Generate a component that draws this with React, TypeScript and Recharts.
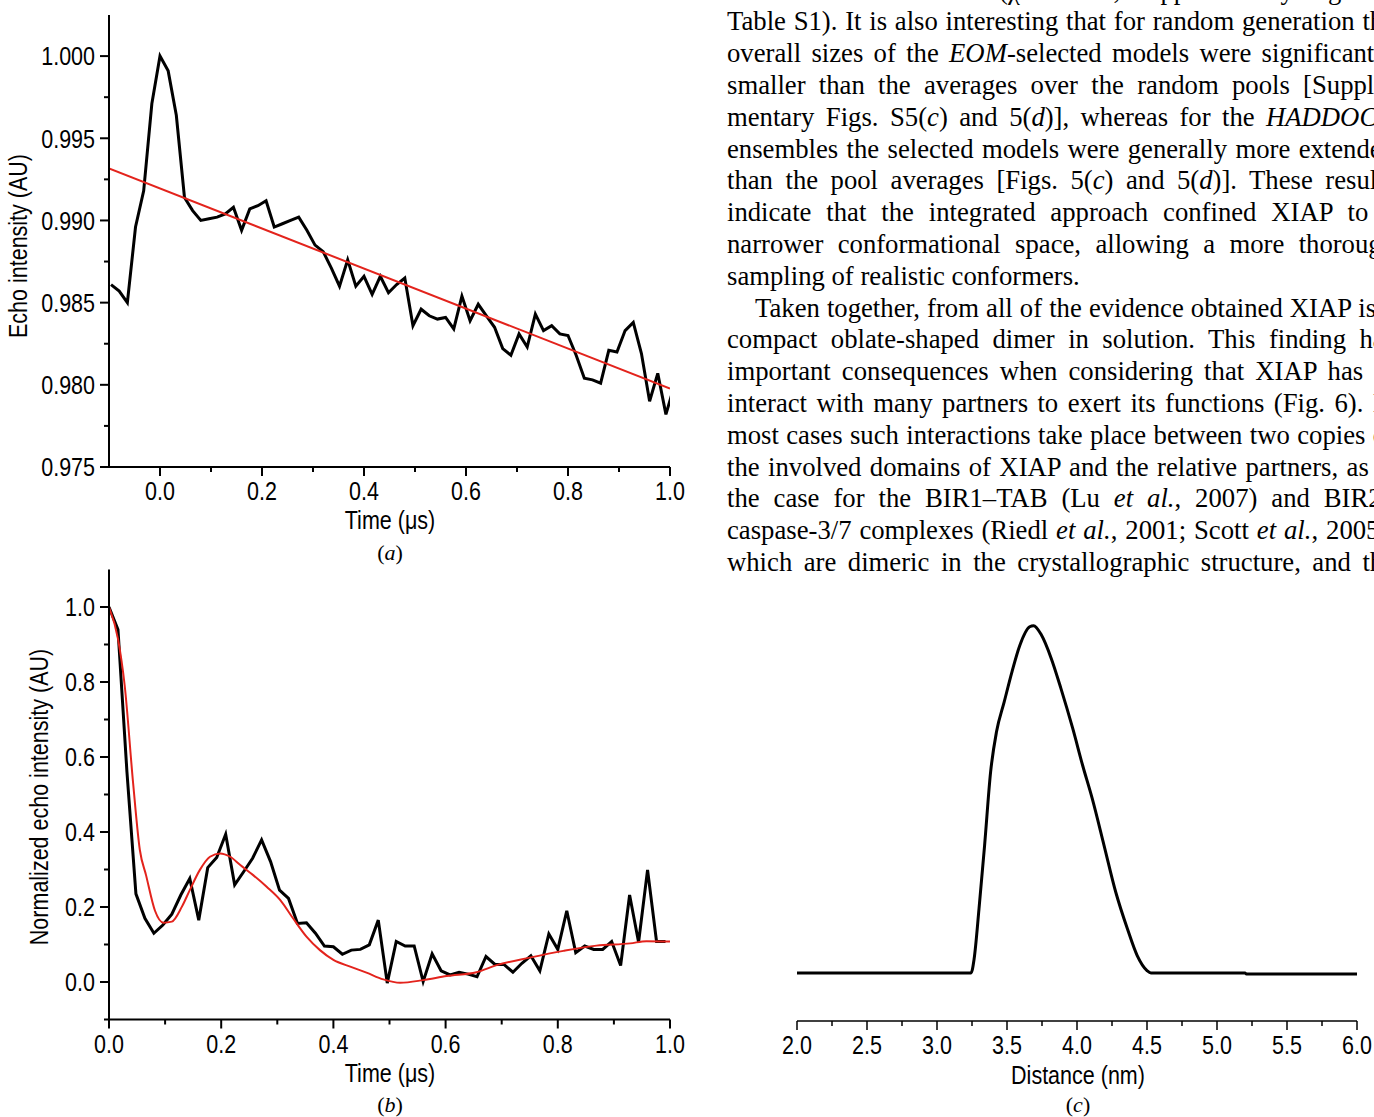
import React from 'react';
import { LineChart, Line, XAxis, YAxis } from 'recharts';

// (a) raw echo, time in µs
const timeA = [
  -0.096, -0.08, -0.064, -0.048, -0.032, -0.016, 0, 0.016, 0.032, 0.048, 0.064, 0.08, 0.096, 0.112,
  0.128, 0.144, 0.16, 0.176, 0.192, 0.208, 0.224, 0.24, 0.256, 0.272, 0.288, 0.304, 0.32, 0.336,
  0.352, 0.368, 0.384, 0.4, 0.416, 0.432, 0.448, 0.464, 0.48, 0.496, 0.512, 0.528, 0.544, 0.56,
  0.576, 0.592, 0.608, 0.624, 0.64, 0.656, 0.672, 0.688, 0.704, 0.72, 0.736, 0.752, 0.768, 0.784,
  0.8, 0.816, 0.832, 0.848, 0.864, 0.88, 0.896, 0.912, 0.928, 0.944, 0.96, 0.976, 0.992, 1.008,
];
const echoA = [
  0.9861, 0.9857, 0.985, 0.9896, 0.9918, 0.9971, 1.0, 0.9991, 0.9964, 0.9914, 0.9906, 0.99, 0.9901, 0.9902,
  0.9904, 0.9908, 0.9894, 0.9907, 0.9909, 0.9912, 0.9896, 0.9898, 0.99, 0.9902, 0.9894, 0.9885, 0.9881, 0.9871,
  0.986, 0.9876, 0.986, 0.9866, 0.9855, 0.9866, 0.9856, 0.9861, 0.9865, 0.9836, 0.9846, 0.9842, 0.984, 0.9841,
  0.9834, 0.9854, 0.9839, 0.9849, 0.9842, 0.9835, 0.9822, 0.9818, 0.9831, 0.9823, 0.9843, 0.9833, 0.9836, 0.9831,
  0.983, 0.9818, 0.9804, 0.9803, 0.9801, 0.9821, 0.982, 0.9833, 0.9838, 0.9819, 0.979, 0.9807, 0.9782, 0.9799,
];
const fitTimeA = [-0.1, 1.0];
const fitA = [0.99316, 0.97977];

// (b) normalized echo
const timeB = [
  0, 0.016, 0.032, 0.048, 0.064, 0.08, 0.096, 0.112, 0.128, 0.144, 0.16, 0.176, 0.192, 0.208, 0.224, 0.24,
  0.256, 0.272, 0.288, 0.304, 0.32, 0.336, 0.352, 0.368, 0.384, 0.4, 0.416, 0.432, 0.448, 0.464, 0.48, 0.496,
  0.512, 0.528, 0.544, 0.56, 0.576, 0.592, 0.608, 0.624, 0.64, 0.656, 0.672, 0.688, 0.704, 0.72, 0.736, 0.752,
  0.768, 0.784, 0.8, 0.816, 0.832, 0.848, 0.864, 0.88, 0.896, 0.912, 0.928, 0.944, 0.96, 0.976, 0.992,
];
const echoB = [
  1.0, 0.94, 0.56, 0.235, 0.17, 0.13, 0.152, 0.181, 0.232, 0.276, 0.165, 0.305, 0.332, 0.394, 0.259, 0.294,
  0.33, 0.379, 0.321, 0.245, 0.223, 0.156, 0.158, 0.13, 0.096, 0.094, 0.074, 0.085, 0.087, 0.099, 0.165, -0.003,
  0.108, 0.096, 0.096, 0.001, 0.075, 0.03, 0.019, 0.026, 0.021, 0.014, 0.068, 0.047, 0.047, 0.026, 0.05, 0.07,
  0.03, 0.128, 0.087, 0.19, 0.078, 0.096, 0.087, 0.087, 0.108, 0.044, 0.232, 0.106, 0.299, 0.108, 0.108,
];
const fitTimeB = [
  0, 0.016, 0.028, 0.043, 0.055, 0.066, 0.082, 0.097, 0.112, 0.13, 0.144, 0.162, 0.18, 0.198, 0.216, 0.234,
  0.257, 0.281, 0.305, 0.328, 0.352, 0.376, 0.4, 0.43, 0.459, 0.489, 0.519, 0.56, 0.602, 0.655, 0.691, 0.75,
  0.81, 0.869, 0.929, 0.958, 1.0,
];
const fitB = [
  1.0, 0.915, 0.79, 0.53, 0.352, 0.285, 0.19, 0.158, 0.161, 0.201, 0.245, 0.299, 0.334, 0.343, 0.334, 0.312,
  0.285, 0.254, 0.219, 0.17, 0.121, 0.085, 0.059, 0.041, 0.025, 0.007, -0.002, 0.005, 0.016, 0.026, 0.045, 0.065,
  0.083, 0.097, 0.103, 0.109, 0.108,
];

// (c) distance distribution, normalized to peak
const distC = [
  2.0, 3.243, 3.265, 3.3, 3.34, 3.383, 3.425, 3.48, 3.536, 3.592, 3.662, 3.69, 3.746, 3.816, 3.885, 3.97,
  4.04, 4.109, 4.193, 4.277, 4.36, 4.43, 4.5, 4.528, 5.2, 5.21, 6.0,
];
const probC = [
  0, 0, 0.04, 0.184, 0.367, 0.578, 0.693, 0.779, 0.866, 0.942, 0.995, 0.998, 0.971, 0.904, 0.818, 0.702,
  0.597, 0.501, 0.367, 0.232, 0.127, 0.05, 0.007, 0.0, 0.0, -0.003, -0.003,
];

const ticksAx = [0, 0.1, 0.2, 0.3, 0.4, 0.5, 0.6, 0.7, 0.8, 0.9, 1.0];
const majorAx = [0, 0.2, 0.4, 0.6, 0.8, 1.0];
const ticksAy = [0.975, 0.9775, 0.98, 0.9825, 0.985, 0.9875, 0.99, 0.9925, 0.995, 0.9975, 1.0];
const majorAy = [0.975, 0.98, 0.985, 0.99, 0.995, 1.0];
const ticksBy = [-0.1, 0, 0.1, 0.2, 0.3, 0.4, 0.5, 0.6, 0.7, 0.8, 0.9, 1.0];
const majorBy = [0, 0.2, 0.4, 0.6, 0.8, 1.0];
const ticksCx = [2, 2.25, 2.5, 2.75, 3, 3.25, 3.5, 3.75, 4, 4.25, 4.5, 4.75, 5, 5.25, 5.5, 5.75, 6];
const majorCx = [2, 2.5, 3, 3.5, 4, 4.5, 5, 5.5, 6];

const textLines = [
  <>the fit of the ensemble (χ² = 1.12, Supplementary Fig. S4,</>,
  <>Table S1). It is also interesting that for random generation the</>,
  <>overall sizes of the <i>EOM</i>-selected models were significantly</>,
  <>smaller than the averages over the random pools [Supple-</>,
  <>mentary Figs. S5(<i>c</i>) and 5(<i>d</i>)], whereas for the <i>HADDOCK</i></>,
  <>ensembles the selected models were generally more extended</>,
  <>than the pool averages [Figs. 5(<i>c</i>) and 5(<i>d</i>)]. These results</>,
  <>indicate that the integrated approach confined XIAP to a</>,
  <>narrower conformational space, allowing a more thorough</>,
  <>sampling of realistic conformers.</>,
  <>Taken together, from all of the evidence obtained XIAP is a</>,
  <>compact oblate-shaped dimer in solution. This finding has</>,
  <>important consequences when considering that XIAP has to</>,
  <>interact with many partners to exert its functions (Fig. 6). In</>,
  <>most cases such interactions take place between two copies of</>,
  <>the involved domains of XIAP and the relative partners, as is</>,
  <>the case for the BIR1–TAB (Lu <i>et al.</i>, 2007) and BIR2–</>,
  <>caspase-3/7 complexes (Riedl <i>et al.</i>, 2001; Scott <i>et al.</i>, 2005),</>,
  <>which are dimeric in the crystallographic structure, and the</>,
];

// the reference uses a condensed sans, so glyphs are stretched vertically
const SANS = "'Liberation Sans', Arial, sans-serif";
const SERIF = "'Liberation Serif', 'Times New Roman', serif";
const FS = 21.5;
const STRETCH = 1.2;

const toRows = (xs: number[], ys: number[]) => xs.map((t, i) => ({ t, v: ys[i] }));
const isIn = (list: number[], v: number) => list.some((m) => Math.abs(m - v) < 1e-9);

const TickText = ({ x, y, anchor, children }: any) => (
  <g transform={`translate(${x},${y}) scale(1,${STRETCH})`}>
    <text x={0} y={0} textAnchor={anchor} fontSize={FS} fontFamily={SANS} fill="#000">
      {children}
    </text>
  </g>
);

const BottomTick = ({ x, y, payload, majors, digits, sw = 2 }: any) => {
  const major = isIn(majors, payload.value);
  return (
    <g>
      <line x1={x} y1={y} x2={x} y2={y + (major ? 9 : 5)} stroke="#000" strokeWidth={sw} />
      {major && (
        <TickText x={x} y={y + 33} anchor="middle">
          {payload.value.toFixed(digits)}
        </TickText>
      )}
    </g>
  );
};

const LeftTick = ({ x, y, payload, majors, digits }: any) => {
  const major = isIn(majors, payload.value);
  return (
    <g>
      <line x1={x} y1={y} x2={x - (major ? 9 : 5)} y2={y} stroke="#000" strokeWidth={2} />
      {major && (
        <TickText x={x - 14} y={y + 9.3} anchor="end">
          {payload.value.toFixed(digits)}
        </TickText>
      )}
    </g>
  );
};

const Txt = ({ x, y, rotate = false, stretch = STRETCH, style, children }: any) => (
  <div
    style={{
      position: 'absolute',
      left: x,
      top: y,
      transform: `translate(-50%, -50%)${rotate ? ' rotate(-90deg)' : ''} scaleY(${stretch})`,
      whiteSpace: 'nowrap',
      lineHeight: 1,
      fontFamily: SANS,
      fontSize: FS,
      color: '#000',
      ...style,
    }}
  >
    {children}
  </div>
);

const Caption = ({ x, y, children }: any) => (
  <Txt x={x} y={y} stretch={1} style={{ fontFamily: SERIF, fontSize: 22 }}>
    (<i>{children}</i>)
  </Txt>
);

const axisStroke = { stroke: '#000', strokeWidth: 2 };

export default function App() {
  return (
    <div
      style={{
        position: 'absolute',
        left: 0,
        top: 0,
        width: 1374,
        height: 1117,
        overflow: 'hidden',
        background: '#fff',
      }}
    >
      {/* (a) */}
      <div style={{ position: 'absolute', left: 0, top: 0 }}>
        <LineChart width={700} height={560} margin={{ top: 15, right: 30, left: 39, bottom: 43 }}>
          <XAxis
            type="number"
            dataKey="t"
            domain={[-0.1, 1.0]}
            allowDataOverflow
            ticks={ticksAx}
            interval={0}
            height={50}
            tickSize={0}
            tickMargin={0}
            tickLine={false}
            axisLine={axisStroke}
            tick={(p: any) => <BottomTick {...p} majors={majorAx} digits={1} />}
          />
          <YAxis
            type="number"
            domain={[0.975, 1.0025]}
            allowDataOverflow
            ticks={ticksAy}
            interval={0}
            width={70}
            tickSize={0}
            tickMargin={0}
            tickLine={false}
            axisLine={axisStroke}
            tick={(p: any) => <LeftTick {...p} majors={majorAy} digits={3} />}
          />
          <Line data={toRows(timeA, echoA)} dataKey="v" type="linear" stroke="#000" strokeWidth={3} dot={false} activeDot={false} isAnimationActive={false} strokeLinejoin="miter" />
          <Line data={toRows(fitTimeA, fitA)} dataKey="v" type="linear" stroke="#e3231c" strokeWidth={2} dot={false} activeDot={false} isAnimationActive={false} />
        </LineChart>
      </div>
      <Txt x={390} y={521}>Time (μs)</Txt>
      <Txt x={19} y={246} rotate>Echo intensity (AU)</Txt>
      <Caption x={390} y={553}>a</Caption>

      {/* (b) */}
      <div style={{ position: 'absolute', left: 0, top: 560 }}>
        <LineChart width={700} height={557} margin={{ top: 9.5, right: 30, left: 39, bottom: 47.5 }}>
          <XAxis
            type="number"
            dataKey="t"
            domain={[0, 1.0]}
            allowDataOverflow
            ticks={ticksAx}
            interval={0}
            height={50}
            tickSize={0}
            tickMargin={0}
            tickLine={false}
            axisLine={axisStroke}
            tick={(p: any) => <BottomTick {...p} majors={majorAx} digits={1} />}
          />
          <YAxis
            type="number"
            domain={[-0.1, 1.1]}
            allowDataOverflow
            ticks={ticksBy}
            interval={0}
            width={70}
            tickSize={0}
            tickMargin={0}
            tickLine={false}
            axisLine={axisStroke}
            tick={(p: any) => <LeftTick {...p} majors={majorBy} digits={1} />}
          />
          <Line data={toRows(timeB, echoB)} dataKey="v" type="linear" stroke="#000" strokeWidth={3} dot={false} activeDot={false} isAnimationActive={false} strokeLinejoin="miter" />
          <Line data={toRows(fitTimeB, fitB)} dataKey="v" type="monotone" stroke="#e3231c" strokeWidth={2} dot={false} activeDot={false} isAnimationActive={false} />
        </LineChart>
      </div>
      <Txt x={390} y={1075}>Time (μs)</Txt>
      <Txt x={40} y={797} rotate>Normalized echo intensity (AU)</Txt>
      <Caption x={390} y={1105}>b</Caption>

      {/* (c) */}
      <div style={{ position: 'absolute', left: 700, top: 590 }}>
        <LineChart width={674} height={527} margin={{ top: 15, right: 17, left: 97, bottom: 46 }}>
          <XAxis
            type="number"
            dataKey="t"
            domain={[2, 6]}
            allowDataOverflow
            ticks={ticksCx}
            interval={0}
            height={50}
            tickSize={0}
            tickMargin={0}
            tickLine={false}
            axisLine={{ stroke: '#000', strokeWidth: 1.5 }}
            tick={(p: any) => <BottomTick {...p} majors={majorCx} digits={1} sw={1.5} />}
          />
          <YAxis hide type="number" domain={[-0.138, 1.0575]} allowDataOverflow />
          <Line data={toRows(distC, probC)} dataKey="v" type="monotone" stroke="#000" strokeWidth={3} dot={false} activeDot={false} isAnimationActive={false} />
        </LineChart>
      </div>
      <Txt x={1078} y={1077}>Distance (nm)</Txt>
      <Caption x={1078} y={1105}>c</Caption>

      {/* body text */}
      {textLines.map((line, i) => (
        <div
          key={i}
          style={{
            position: 'absolute',
            left: 727,
            top: -25.4 + i * 31.8,
            width: 668,
            height: 31.8,
            lineHeight: '31.8px',
            fontSize: 26.7,
            fontFamily: SERIF,
            color: '#000',
            whiteSpace: 'nowrap',
            textAlign: 'justify',
            textAlignLast: i === 9 ? 'left' : 'justify',
            textIndent: i === 10 ? 28 : 0,
          }}
        >
          {line}
        </div>
      ))}
    </div>
  );
}
